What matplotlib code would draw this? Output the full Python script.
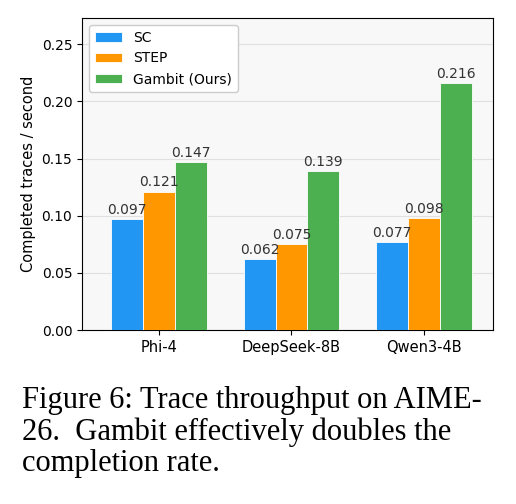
import matplotlib
matplotlib.use("Agg")
import matplotlib.pyplot as plt
import numpy as np

models = ["Phi-4", "DeepSeek-8B", "Qwen3-4B"]
methods = ["SC", "STEP", "Gambit (Ours)"]
sc = [0.097, 0.062, 0.077]
step = [0.121, 0.075, 0.098]
gambit = [0.147, 0.139, 0.216]
colors = ["#2196F3", "#FF9800", "#4CAF50"]

fig = plt.figure(figsize=(5.16, 5.04), dpi=100)
ax = fig.add_axes([82/516, 1-330/504, (493-82)/516, (330-18)/504])
ax.set_facecolor("#f8f8f8")

x = np.arange(len(models))
w = 0.24
for i, (vals, name, c) in enumerate(zip([sc, step, gambit], methods, colors)):
    pos = x + (i - 1) * w
    bars = ax.bar(pos, vals, w, color=c, label=name, edgecolor="white", linewidth=0.6, zorder=3)
    for b, v in zip(bars, vals):
        ax.text(b.get_x() + b.get_width()/2, v + 0.002, f"{v:.3f}", ha="center", va="bottom",
                fontsize=10, color="#333333", zorder=4)

ax.set_xticks(x)
ax.set_xticklabels(models, fontsize=10.5)
ax.set_xlim(-0.58, 2.52)
ax.set_ylim(0, 0.273)
ax.set_yticks([0, 0.05, 0.10, 0.15, 0.20, 0.25])
ax.set_yticklabels(["0.00", "0.05", "0.10", "0.15", "0.20", "0.25"], fontsize=10)
ax.set_ylabel("Completed traces / second", fontsize=10.5)
ax.grid(axis="y", color="#e0e0e0", linewidth=0.8, zorder=0)
ax.legend(loc="upper left", fontsize=10, framealpha=1, edgecolor="#cccccc")

cap = "Figure 6: Trace throughput on AIME-\n26.  Gambit effectively doubles the\ncompletion rate."
fig.text(22/516, 1-386/504, cap, ha="left", va="top", family="Liberation Serif",
         fontsize=22, linespacing=1.1)

fig.savefig("out.png", dpi=100)
